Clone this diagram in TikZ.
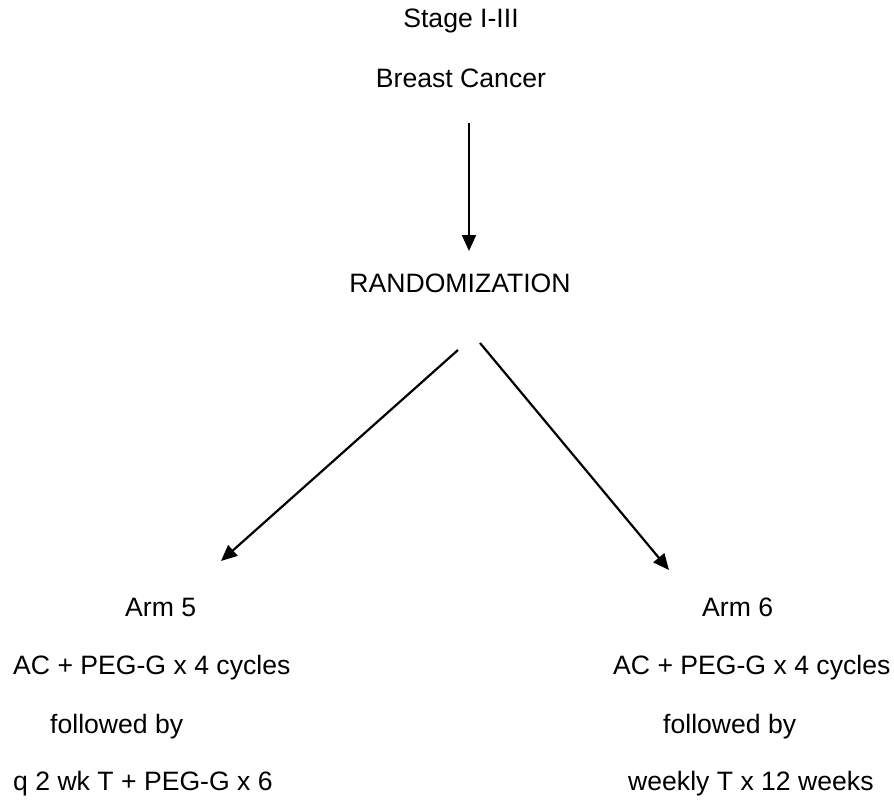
\documentclass[tikz,border=0pt]{standalone}
\usepackage{fontspec}
\setmainfont{Liberation Sans}
\usetikzlibrary{arrows.meta}
\begin{document}
\begin{tikzpicture}[x=1pt,y=-1pt,
  lbl/.style={anchor=base west,inner sep=0pt,font=\fontsize{26.6}{32}\selectfont},
  clbl/.style={anchor=base,inner sep=0pt,font=\fontsize{26.6}{32}\selectfont},
  arr/.style={line width=2.2pt,-{Triangle[length=16pt,width=14pt]}}]
\useasboundingbox (0,0) rectangle (894,800);
% top
\node[clbl] (stage) at (461,28) {Stage I-III};
\node[clbl] (cancer) at (461,88) {Breast Cancer};
\node[clbl] (rand) at (460,292) {RANDOMIZATION};
% left arm
\node[lbl] (arm5) at (125,616) {Arm 5};
\node[lbl] (l1) at (13,674) {AC + PEG-G x 4 cycles};
\node[lbl] (l2) at (50,733) {followed by};
\node[lbl] (l3) at (13,790) {q 2 wk T + PEG-G x 6};
% right arm
\node[lbl] (arm6) at (702,616) {Arm 6};
\node[lbl] (r1) at (613,674) {AC + PEG-G x 4 cycles};
\node[lbl] (r2) at (663,733) {followed by};
\node[lbl] (r3) at (628,790) {weekly T x 12 weeks};
% arrow end points
\coordinate (vs) at (469,123);
\coordinate (ve) at (469,251);
\coordinate (ls) at (458,350);
\coordinate (le) at (221,561);
\coordinate (rs) at (480,343);
\coordinate (re) at (669,570);
\draw[arr] (vs) -- (ve);
\draw[arr] (ls) -- (le);
\draw[arr] (rs) -- (re);
\end{tikzpicture}
\end{document}
